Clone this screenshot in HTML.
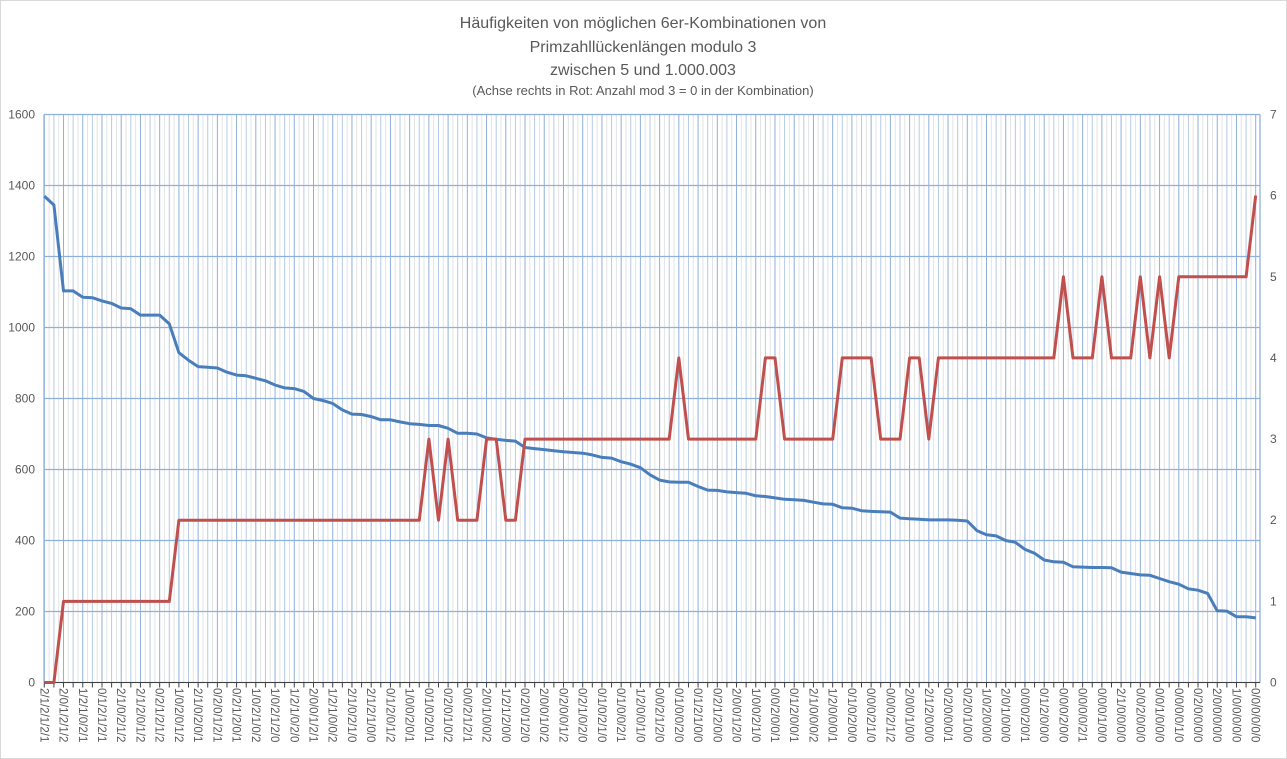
<!DOCTYPE html>
<html><head><meta charset="utf-8"><style>
html,body{margin:0;padding:0;background:#fff;}
svg{display:block;font-family:"Liberation Sans",sans-serif;}
</style></head><body>
<svg id="chart" width="1287" height="759" viewBox="0 0 1287 759">
<rect x="0.5" y="0.5" width="1286" height="758" fill="#fff" stroke="#d9d9d9"/>
<g fill="#595959" text-anchor="middle">
<text x="643" y="28" font-size="16">Häufigkeiten von möglichen 6er-Kombinationen von</text>
<text x="643" y="52" font-size="16">Primzahllückenlängen modulo 3</text>
<text x="643" y="75" font-size="16">zwischen 5 und 1.000.003</text>
<text x="643" y="95" font-size="13">(Achse rechts in Rot: Anzahl mod 3 = 0  in der Kombination)</text>
</g>
<g id="grid"></g>
<g id="axes"></g>
<g id="series"></g>
</svg>
<script>
const leftTicks = [0,200,400,600,800,1000,1200,1400,1600];
const rightTicks = [0,1,2,3,4,5,6,7];
const tickLabels = ["2/1/2/1/2/1","2/0/1/2/1/2","1/2/1/0/2/1","0/1/2/1/2/1","2/1/0/2/1/2","2/1/2/0/1/2","0/2/1/2/1/2","1/0/2/0/1/2","2/1/0/2/0/1","0/2/0/1/2/1","0/2/1/2/0/1","1/0/2/1/0/2","1/0/2/1/2/0",
"1/2/1/0/2/0","2/0/0/1/2/1","1/2/1/0/0/2","2/1/0/2/1/0","2/1/2/1/0/0","0/1/2/0/1/2","1/0/0/2/0/1","0/1/0/2/0/1","0/2/0/1/0/2","0/0/2/1/2/1","2/0/1/0/0/2","1/2/1/2/0/0","0/2/0/1/2/0",
"2/0/0/1/0/2","0/2/0/0/1/2","0/2/1/0/2/0","0/1/0/2/1/0","0/1/0/0/2/1","1/2/0/0/1/0","0/0/2/1/2/0","0/1/0/0/2/0","0/1/2/1/0/0","0/2/1/2/0/0","2/0/0/1/2/0","1/0/0/2/1/0","0/0/2/0/0/1",
"0/1/2/0/0/1","2/1/0/0/0/2","1/2/0/0/0/1","0/1/0/2/0/0","0/0/0/2/1/0","0/0/0/2/1/2","2/0/0/1/0/0","2/1/2/0/0/0","0/2/0/0/0/1","0/2/0/1/0/0","1/0/2/0/0/0","2/0/1/0/0/0",
"0/0/0/2/0/1","0/1/2/0/0/0","0/0/0/2/0/0","0/0/0/0/2/1","0/0/0/1/0/0","2/1/0/0/0/0","0/0/2/0/0/0","0/0/1/0/0/0","0/0/0/0/1/0","0/2/0/0/0/0","2/0/0/0/0/0","1/0/0/0/0/0","0/0/0/0/0/0"];
const countValues = [1370,1345,1103,1103,1085,1084,1075,1068,1055,1053,
1035,1035,1035,1010,929,908,890,888,886,874,
866,864,857,850,838,830,828,820,800,794,
786,768,756,755,749,740,740,734,729,727,
724,724,716,702,702,700,689,685,682,680,
662,659,656,653,650,648,646,641,634,632,
622,615,605,585,570,565,564,564,552,542,
541,537,535,533,526,524,520,516,515,513,
508,503,502,492,491,484,482,481,480,463,
461,460,458,458,458,457,455,428,416,413,
400,395,375,364,345,340,339,326,325,324,
324,323,311,307,303,302,293,284,277,264,
260,251,202,201,185,185,182];
const mod0Values = [0,0,1,1,1,1,1,1,1,1,1,1,1,1,
2,2,2,2,2,2,2,2,2,2,2,2,2,2,2,2,2,2,2,2,2,2,2,2,2,2,
3,2,3,2,2,2,3,3,2,2,
3,3,3,3,3,3,3,3,3,3,3,3,3,3,3,3,
4,3,3,3,3,3,3,3,3,4,4,3,3,3,3,3,3,
4,4,4,4,3,3,3,4,4,3,
4,4,4,4,4,4,4,4,4,4,4,4,4,
5,4,4,4,5,4,4,4,5,4,5,4,
5,5,5,5,5,5,5,5,6];

const NS="http://www.w3.org/2000/svg";
const L=44,R=1260,T=114.5,B=682.5;
const N=countValues.length;
const x0=44.3,x1=1255.7;
const xAt=i=>x0+(x1-x0)*i/(N-1);
const yL=v=>B-(B-T)*v/1600;
const yR=v=>B-(B-T)*v/7;
function mk(tag,attrs,parent){const e=document.createElementNS(NS,tag);for(const k in attrs)e.setAttribute(k,attrs[k]);parent.appendChild(e);return e;}
const grid=document.getElementById('grid'),axes=document.getElementById('axes'),series=document.getElementById('series');
// minor vertical gridlines
for(let i=0;i<N-1;i++){const x=(xAt(i)+xAt(i+1))/2;
const l=mk('line',{x1:x,x2:x,y1:T,y2:B,stroke:'#e3e3e3','stroke-width':1},grid);

}
for(let i=0;i<N;i++){const x=xAt(i);
const l=mk('line',{x1:x,x2:x,y1:T,y2:B,stroke:i%2?'#b4cbe8':'#8eb0dc','stroke-width':1},grid);

}
leftTicks.forEach(v=>{const y=yL(v);
const l=mk('line',{x1:L,x2:R,y1:y,y2:y,stroke:'#8eb0dc','stroke-width':1.3},grid);


const t=mk('text',{x:35,y:y+4,'text-anchor':'end','font-size':12,fill:'#595959'},axes);t.textContent=v;

});
rightTicks.forEach(v=>{const y=yR(v);
const t=mk('text',{x:1270,y:y+4,'font-size':12,fill:'#595959'},axes);t.textContent=v;

});
const lft=mk('line',{x1:L,x2:L,y1:T,y2:B,stroke:'#8eb0dc','stroke-width':1.3},grid);


const rgt=mk('line',{x1:R,x2:R,y1:T,y2:B,stroke:'#8eb0dc','stroke-width':1.3},grid);


const xa=mk('line',{x1:L,x2:R,y1:B,y2:B,stroke:'#404040','stroke-width':1},axes);


for(let i=0;i<N;i++){const x=xAt(i);
const tk=mk('line',{x1:x,x2:x,y1:B,y2:B+5,stroke:'#404040','stroke-width':1},axes);

}
tickLabels.forEach((s,j)=>{const x=xAt(j*2);
const t=mk('text',{x:0,y:0,'font-size':11.5,fill:'#595959',transform:`translate(${x-4},688) rotate(90)`},axes);
t.textContent=s;

});
const pb=countValues.map((v,i)=>xAt(i).toFixed(1)+','+yL(v).toFixed(1)).join(' ');
const blue=mk('polyline',{points:pb,fill:'none',stroke:'#4a7ebb','stroke-width':3,'stroke-linejoin':'round'},series);


const pr=mod0Values.map((v,i)=>xAt(i).toFixed(1)+','+yR(v).toFixed(1)).join(' ');
const red=mk('polyline',{points:pr,fill:'none',stroke:'#c0504d','stroke-width':3,'stroke-linejoin':'round'},series);


</script>
</body></html>
